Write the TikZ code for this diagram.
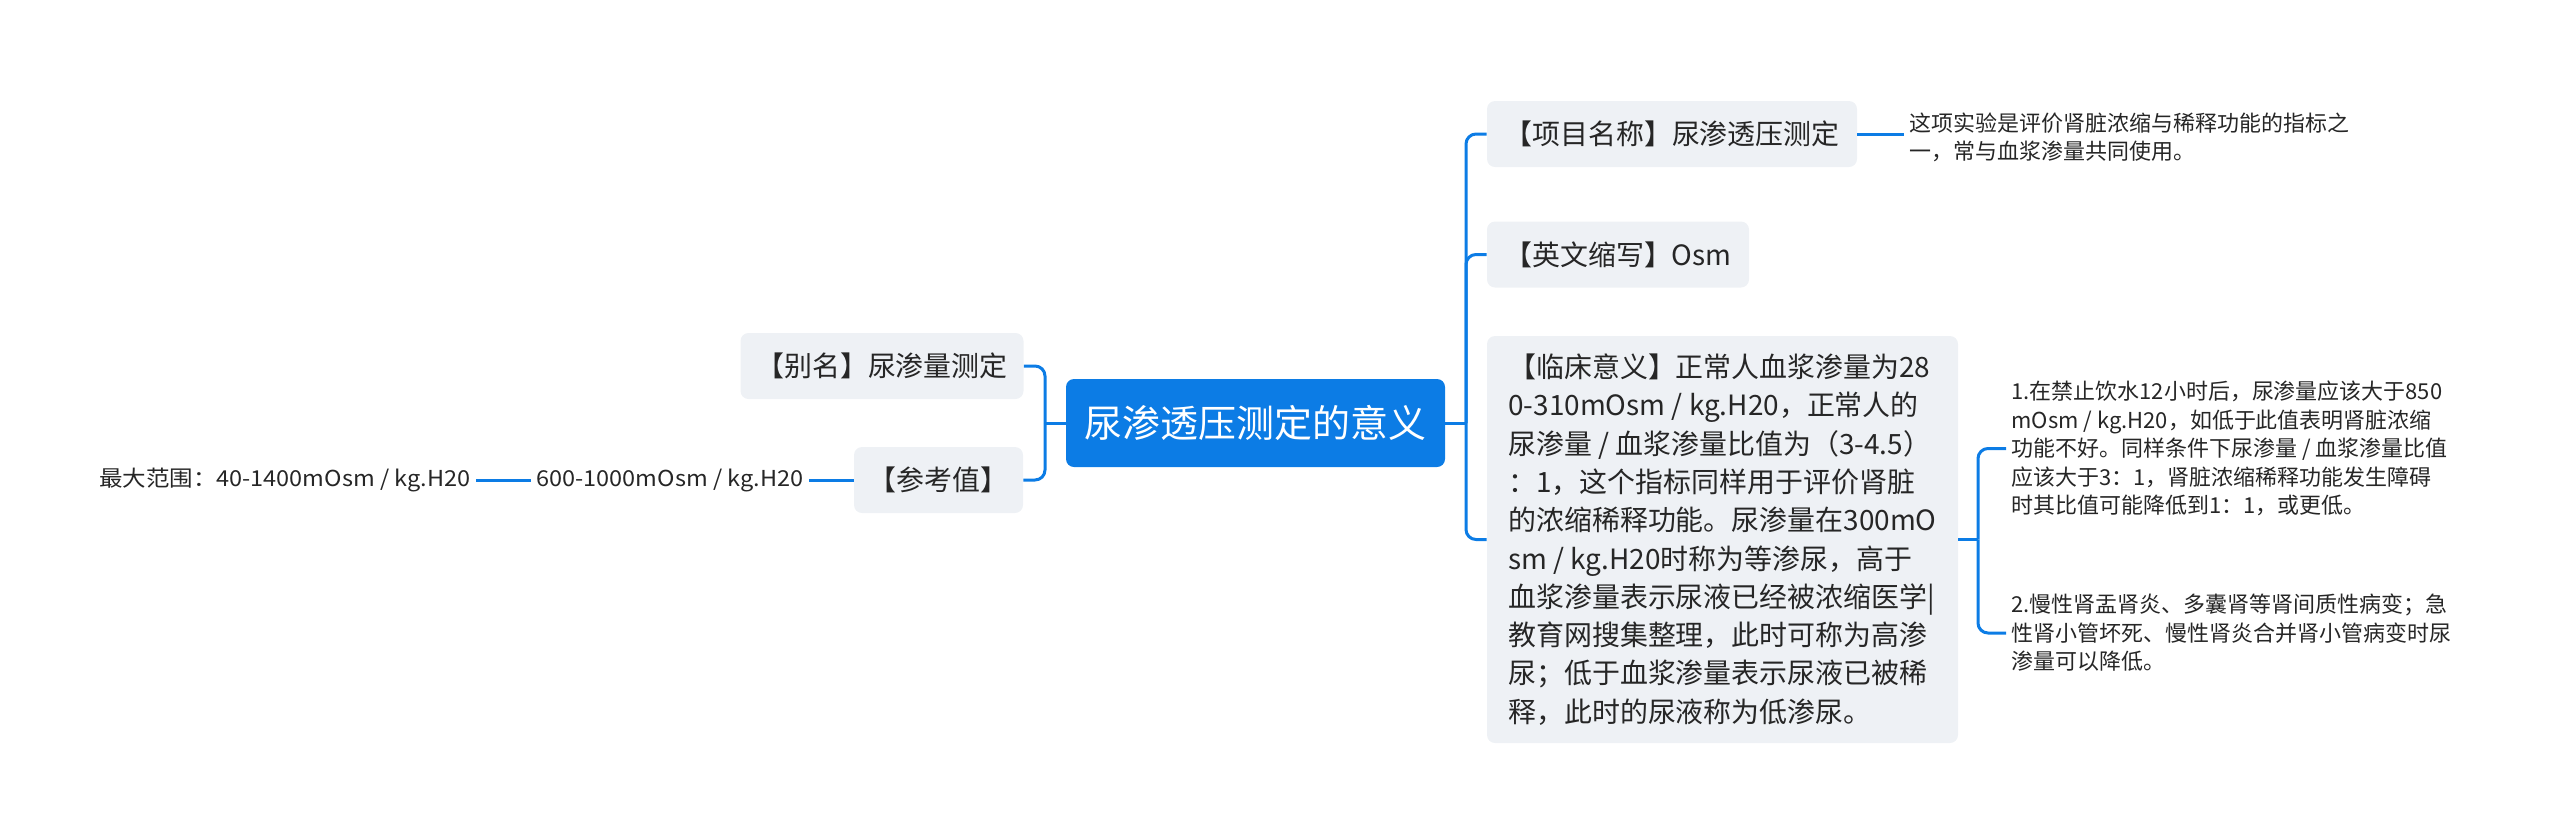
\documentclass[tikz,border=0pt]{standalone}
\usepackage{fontspec}
\newfontfamily\zhfont{Noto Sans CJK SC}
\newfontfamily\zhwide[FakeStretch=1.07]{Noto Sans CJK SC}
\definecolor{mapblue}{RGB}{12, 124, 229}
\definecolor{boxgray}{RGB}{238, 241, 245}
\definecolor{textdark}{RGB}{38, 38, 38}

\begin{document}
\begin{tikzpicture}[x=0.2mm, y=-0.2mm,
    topic/.style={fill=boxgray, rounded corners=1.6mm, text=textdark, inner sep=0pt,
        minimum height=13.2mm, font=\zhfont\fontsize{15.9}{21.8}\selectfont},
    note/.style={text=textdark, inner sep=3pt, align=left,
        font=\zhfont\fontsize{12.5}{16.2}\selectfont},
    wide/.style={note, font=\zhwide\fontsize{12.5}{16.2}\selectfont},
    link/.style={draw=mapblue, line width=0.6mm},
    elbow/.style={link, rounded corners=2mm}]
                    \useasboundingbox (0,0) rectangle (2560,839);

                    % centre
                    \node[fill=mapblue, rounded corners=1.6mm, text=white, inner sep=0pt,
                          minimum width=75.8mm, minimum height=17.6mm,
                          font=\zhfont\fontsize{21.6}{26}\selectfont] (root) at (1255.5,423) {尿渗透压测定的意义};

                    % left side
                    \node[topic, minimum width=56.6mm] (alias) at (882,366) {【别名】尿渗量测定};
                    \node[topic, minimum width=33.8mm] (ref) at (938.5,480) {【参考值】};
                    \node[wide, anchor=east] (normal) at (809,480) {600-1000mOsm / kg.H20};
                    \node[wide, anchor=east] (range) at (476,480) {最大范围：40-1400mOsm / kg.H20};

                    % right side
                    \node[topic, minimum width=74mm] (proj) at (1672,134) {【项目名称】尿渗透压测定};
                    \node[topic, minimum width=52.4mm] (abbr) at (1618,254.5) {【英文缩写】Osm};
                    \node[topic, minimum width=94.2mm, minimum height=81.4mm, align=left] (clin) at (1722.5,539.5)
                        {【临床意义】正常人血浆渗量为28\\0-310mOsm / kg.H20，正常人的\\尿渗量 / 血浆渗量比值为（3-4.5）\\：1，这个指标同样用于评价肾脏\\的浓缩稀释功能。尿渗量在300mO\\sm / kg.H20时称为等渗尿，高于\\血浆渗量表示尿液已经被浓缩医学|\\教育网搜集整理，此时可称为高渗\\尿；低于血浆渗量表示尿液已被稀\\释，此时的尿液称为低渗尿。};
                    \node[note, anchor=west] (desc) at (1904,137.5)
                        {这项实验是评价肾脏浓缩与稀释功能的指标之\\一，常与血浆渗量共同使用。};
                    \node[note, anchor=west] (test) at (2006,448.5)
                        {1.在禁止饮水12小时后，尿渗量应该大于850\\mOsm / kg.H20，如低于此值表明肾脏浓缩\\功能不好。同样条件下尿渗量 / 血浆渗量比值\\应该大于3：1，肾脏浓缩稀释功能发生障碍\\时其比值可能降低到1：1，或更低。};
                    \node[note, anchor=west] (low) at (2006,633)
                        {2.慢性肾盂肾炎、多囊肾等肾间质性病变；急\\性肾小管坏死、慢性肾炎合并肾小管病变时尿\\渗量可以降低。};

                    \coordinate (lj) at (1045,423);
                    \coordinate (rj) at (1466,423);
                    \coordinate (cj) at (1978,539.5);

                    \draw[link] (root.west) -- (lj);
                    \draw[elbow] (lj) |- (alias.east);
                    \draw[elbow] (lj) |- (ref.east);
                    \draw[link] (ref.west) -- (normal.east);
                    \draw[link] (normal.west) -- (range.east);

                    \draw[link] (root.east) -- (rj);
                    \draw[elbow] (rj) |- (proj.west);
                    \draw[elbow] (rj) |- (abbr.west);
                    \draw[elbow] (rj) |- (clin.west);
                    \draw[link] (proj.east) -- (proj.east -| desc.west);

                    \draw[link] (clin.east) -- (cj);
                    \draw[elbow] (cj) |- (test.west);
                    \draw[elbow] (cj) |- (low.west);
                \end{tikzpicture}
\end{document}
